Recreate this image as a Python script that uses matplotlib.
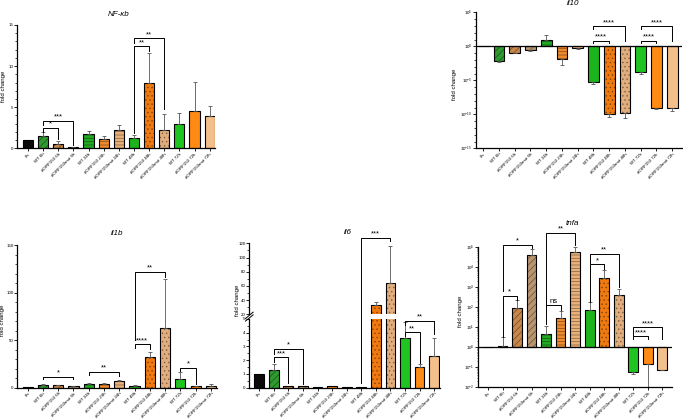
import numpy as np
import matplotlib.pyplot as plt
import matplotlib.colors as mcolors
from matplotlib.ticker import MultipleLocator, FixedLocator, FuncFormatter, LogLocator, NullFormatter

plt.rcParams['font.family'] = ['Liberation Sans', 'DejaVu Sans']
plt.rcParams['mathtext.default'] = 'regular'
plt.rcParams['hatch.linewidth'] = 0.5

# ---------------- data ----------------
labels = ['0h', 'WT 6h', 'dORF150 6h', 'dORF150mut 6h',
          'WT 24h', 'dORF150 24h', 'dORF150mut 24h',
          'WT 48h', 'dORF150 48h', 'dORF150mut 48h',
          'WT 72h', 'dORF150 72h', 'dORF150mut 72h']

bar_colors = ['#0a0a0a', '#2f9a2f', '#c8874a', '#b8956e',
              '#22a822', '#ee8a2c', '#e9b07a',
              '#1cb41c', '#f07a10', '#e2ad7c',
              '#20c420', '#ff8a14', '#f3bf8a']
hatches = ['', '/////', '/////', '/////', '-----', '-----', '-----',
           '', '....', '....', '', '', '']

# NF-kb (linear), mean and SD
nfkb = [1.0, 1.5, 0.53, 0.16, 1.7, 1.1, 2.24, 1.26, 7.9, 2.28, 2.93, 4.5, 3.94]
nfkb_sd = [0, 0.45, 0.4, 0.02, 0.4, 0.4, 0.56, 0.41, 3.7, 1.87, 1.37, 3.6, 1.26]
# (left bar, right bar, bracket height, left leg end, right leg end, label)
nfkb_sig = [(1, 2, 2.44, 2.03, 1.1, '*'), (1, 3, 3.37, 2.85, 0.37, '***'),
            (7, 8, 12.4, 1.83, 11.8, '**'), (7, 9, 13.37, 12.8, 4.76, '**')]

# il10 (log), mean and error-bar tip
il10 = [1.0, 6e-3, 0.1, 0.25, 10, 1.3e-2, 0.5, 5e-6, 1e-10, 1.6e-10, 1.6e-4, 1e-9, 8e-10]
il10_tip = [1.0, 5e-3, 0.09, 0.22, 40, 2e-3, 0.45, 3e-6, 4e-11, 3e-11, 1e-4, 6e-10, 3e-10]
il10_sig = [(7, 8, 10**0.83, 10**0.5, 10**0.5, '****'), (7, 9, 10**2.94, 10**2.55, 10**0.74, '****'),
            (10, 11, 10**0.83, 10**0.5, 10**0.5, '****'), (10, 12, 10**2.94, 10**2.55, 10**0.74, '****')]

# il1b (linear)
il1b = [1.0, 2.8, 2.5, 1.7, 3.9, 4.2, 7.0, 2.1, 32.6, 62.7, 8.8, 1.4, 2.1]
il1b_sd = [0, 1.0, 0.6, 0.4, 1.0, 1.0, 1.0, 0.7, 4.6, 51.9, 7.7, 0.4, 1.4]
il1b_sig = [(1, 3, 11.6, 8.8, 8.8, '*'), (4, 6, 16.5, 13.0, 12.3, '**'),
            (7, 8, 45.6, 41.4, 40.3, '****'), (7, 9, 122, 50.1, 116, '**'),
            (10, 11, 20.7, 17.9, 3.9, '*')]

# il6 (broken linear axis)
il6 = [1.0, 1.29, 0.12, 0.1, 0.08, 0.1, 0.08, 0.08, 33, 64, 3.6, 1.48, 2.34]
il6_sd = [0, 0.45, 0, 0, 0, 0, 0, 0, 4.5, 51.5, 1.18, 0.22, 1.26]
il6_sig = [(1, 2, 2.2, 1.85, 0.32, '***'), (1, 3, 2.85, 2.46, 0.24, '*'),
           (10, 11, 4.02, 3.73, 1.83, '**'), (10, 12, 4.85, 4.56, 3.88, '**')]
il6_sig_top = (7, 9, 127.6, 0.32, 123.8, '***')  # left leg ends in lower segment

# tnfa (log)
tnfa = [1.0, 1.2, 90, 4e4, 4.3, 27, 5.2e4, 70, 2.7e3, 400, 0.059, 0.15, 0.074]
tnfa_tip = [1.0, 3.2, 220, 7.4e4, 11, 63, 9.5e4, 180, 7e3, 800, 0.048, 0.0085, 0.072]
tnfa_sig = [(1, 2, 10**2.57, 10**0.48, 10**2.37, '*'), (1, 3, 10**5.08, 10**2.78, 10**4.95, '*'),
            (4, 6, 10**5.7, 10**2.07, 10**5.08, '**'), (4, 5, 10**2.08, 10**1.17, 10**1.87, 'ns'),
            (7, 8, 10**4.12, 10**2.27, 10**3.87, '*'), (7, 9, 10**4.65, 10**4.2, 10**3.0, '**'),
            (10, 11, 10**0.53, 10**0.4, 10**0.4, '****'), (10, 12, 10**0.98, 10**0.62, 10**0.4, '****')]

x = np.arange(len(labels))
W = 0.67
fig = plt.figure(figsize=(6.83, 4.2), dpi=100)

TICK_FS = 3.2
LAB_FS = 4.4
TITLE_FS = 5.8


def px_axes(l, t, r, b):
    return fig.add_axes([l / 683, 1 - b / 420, (r - l) / 683, (b - t) / 420])


def shade(c, f=0.55):
    r, g, b = mcolors.to_rgb(c)
    return (r * f, g * f, b * f)


def draw_bars(ax, vals, bottom=0.0):
    vals = np.asarray(vals, dtype=float)
    h = vals - bottom
    bars = ax.bar(x, h, W, bottom=bottom, color=bar_colors,
                  edgecolor=[shade(c) for c in bar_colors], linewidth=0)
    for b, ht in zip(bars, hatches):
        b.set_hatch(ht)
    ax.bar(x, h, W, bottom=bottom, fill=False, edgecolor='black', linewidth=0.8)


def err_lin(ax, vals, sd):
    idx = [i for i in range(len(sd)) if sd[i] > 0]
    ax.errorbar(x[idx], np.array(vals)[idx], yerr=[np.zeros(len(idx)), np.array(sd)[idx]],
                fmt='none', ecolor='#555555', elinewidth=0.6, capsize=1.5, capthick=0.6)


def err_log(ax, vals, tips):
    vals = np.array(vals); tips = np.array(tips)
    idx = [i for i in range(len(vals)) if tips[i] != vals[i]]
    lo = np.where(tips < vals, vals - tips, 0)[idx]
    hi = np.where(tips > vals, tips - vals, 0)[idx]
    ax.errorbar(x[idx], vals[idx], yerr=[lo, hi], fmt='none', ecolor='#555555',
                elinewidth=0.6, capsize=1.5, capthick=0.6)


def brackets(ax, sig):
    for i, j, y, yl, yr, lab in sig:
        ax.plot([i, i, j, j], [yl, y, y, yr], color='black', lw=0.7, clip_on=False)
        ax.annotate(lab, (0.5 * (i + j), y), xytext=(0, 0.3), textcoords='offset points',
                    ha='center', va='bottom', fontsize=5.5, annotation_clip=False)


def style(ax, xlab=True):
    for s in ['top', 'right']:
        ax.spines[s].set_visible(False)
    for s in ['left', 'bottom']:
        ax.spines[s].set_linewidth(0.9)
    ax.tick_params(which='major', labelsize=TICK_FS, length=2, width=0.6, pad=0.8)
    ax.tick_params(which='minor', length=1.2, width=0.5)
    ax.set_xticks(x)
    if xlab:
        ax.set_xticklabels(labels, rotation=45, ha='right', rotation_mode='anchor', fontsize=TICK_FS)


def logfmt(v, p):
    return r'$10^{%d}$' % int(round(np.log10(v)))


# ---------------- NF-kb ----------------
ax = px_axes(17.3, 25, 215, 148.3)
draw_bars(ax, nfkb)
err_lin(ax, nfkb, nfkb_sd)
brackets(ax, nfkb_sig)
ax.set_xlim(-0.7, 12.35)
ax.set_ylim(0, 15)
ax.yaxis.set_major_locator(MultipleLocator(5))
ax.yaxis.set_minor_locator(MultipleLocator(1))
style(ax)
ax.set_ylabel('fold change', fontsize=LAB_FS)
ax.yaxis.set_label_coords(-0.058, 0.5)
fig.text(119 / 683, 1 - 14 / 420, 'NF-κb', fontsize=TITLE_FS, style='italic', ha='center', va='center')

# ---------------- il10 ----------------
ax = px_axes(476, 12.3, 681.7, 148.3)
ax.set_yscale('log')
ax.set_ylim(1e-15, 1e5)
draw_bars(ax, il10, bottom=1.0)
err_log(ax, il10, il10_tip)
ax.axhline(1, color='black', lw=0.9)
brackets(ax, il10_sig)
ax.set_xlim(-0.46, 12.6)
ax.yaxis.set_major_locator(FixedLocator([1e-15, 1e-10, 1e-5, 1, 1e5]))
ax.yaxis.set_minor_locator(FixedLocator(10.0 ** np.arange(-15, 6)))
ax.yaxis.set_major_formatter(FuncFormatter(logfmt))
ax.yaxis.set_minor_formatter(NullFormatter())
style(ax)
ax.set_ylabel('fold change', fontsize=LAB_FS)
ax.yaxis.set_label_coords(-0.094, 0.47)
fig.text(572.7 / 683, 1 - 3.5 / 420, 'il10', fontsize=TITLE_FS, style='italic', ha='center', va='center')

# ---------------- il1b ----------------
ax = px_axes(17.3, 245, 216.7, 387.7)
draw_bars(ax, il1b)
err_lin(ax, il1b, il1b_sd)
brackets(ax, il1b_sig)
ax.set_xlim(-0.68, 12.38)
ax.set_ylim(0, 150)
ax.yaxis.set_major_locator(MultipleLocator(50))
ax.yaxis.set_minor_locator(MultipleLocator(10))
style(ax)
ax.set_ylabel('fold change', fontsize=LAB_FS)
ax.yaxis.set_label_coords(-0.062, 0.47)
fig.text(117.3 / 683, 1 - 233.3 / 420, 'il1b', fontsize=TITLE_FS, style='italic', ha='center', va='center')

# ---------------- il6 (broken axis) ----------------
ax_lo = px_axes(249.3, 319, 440, 387.7)
ax_hi = px_axes(249.3, 243.3, 440, 314.3)
for a in (ax_lo, ax_hi):
    draw_bars(a, il6)
    err_lin(a, il6, il6_sd)
    a.set_xlim(-0.68, 12.4)
ax_lo.set_ylim(0, 5)
ax_hi.set_ylim(20, 120)
ax_lo.yaxis.set_major_locator(MultipleLocator(1))
ax_lo.yaxis.set_minor_locator(MultipleLocator(0.5))
ax_hi.yaxis.set_major_locator(MultipleLocator(20))
ax_hi.yaxis.set_minor_locator(MultipleLocator(10))
style(ax_lo)
style(ax_hi, xlab=False)
ax_hi.spines['bottom'].set_visible(False)
ax_hi.tick_params(axis='x', which='both', bottom=False, labelbottom=False)
brackets(ax_lo, il6_sig)
i, j, y, yl, yr, lab = il6_sig_top
yl_hi = ax_hi.transData.inverted().transform(ax_lo.transData.transform((i, yl)))[1]
brackets(ax_hi, [(i, j, y, yl_hi, yr, lab)])
kw = dict(color='black', lw=0.7, clip_on=False)
ax_lo.plot([-0.02, 0.02], [0.97, 1.06], transform=ax_lo.transAxes, **kw)
ax_hi.plot([-0.02, 0.02], [-0.06, 0.03], transform=ax_hi.transAxes, **kw)
fig.text(237 / 683, 1 - 300 / 420, 'fold change', fontsize=LAB_FS, rotation=90, ha='center', va='center')
fig.text(348 / 683, 1 - 232.7 / 420, 'il6', fontsize=TITLE_FS, style='italic', ha='center', va='center')

# ---------------- tnfa ----------------
ax = px_axes(478.3, 246.7, 672.3, 387.3)
ax.set_yscale('log')
ax.set_ylim(1e-2, 1e5)
draw_bars(ax, tnfa, bottom=1.0)
err_log(ax, tnfa, tnfa_tip)
ax.axhline(1, color='black', lw=0.9)
brackets(ax, tnfa_sig)
ax.set_xlim(-0.67, 12.69)
ax.yaxis.set_major_locator(FixedLocator(10.0 ** np.arange(-2, 6)))
ax.yaxis.set_minor_locator(LogLocator(base=10, subs=np.arange(2, 10), numticks=20))
ax.yaxis.set_major_formatter(FuncFormatter(logfmt))
ax.yaxis.set_minor_formatter(NullFormatter())
style(ax)
ax.tick_params(which='minor', length=0.8, width=0.4)
ax.set_ylabel('fold change', fontsize=LAB_FS)
ax.yaxis.set_label_coords(-0.077, 0.54)
fig.text(572.7 / 683, 1 - 223.3 / 420, 'tnfa', fontsize=TITLE_FS, style='italic', ha='center', va='center')

fig.savefig('out.png', dpi=100)
